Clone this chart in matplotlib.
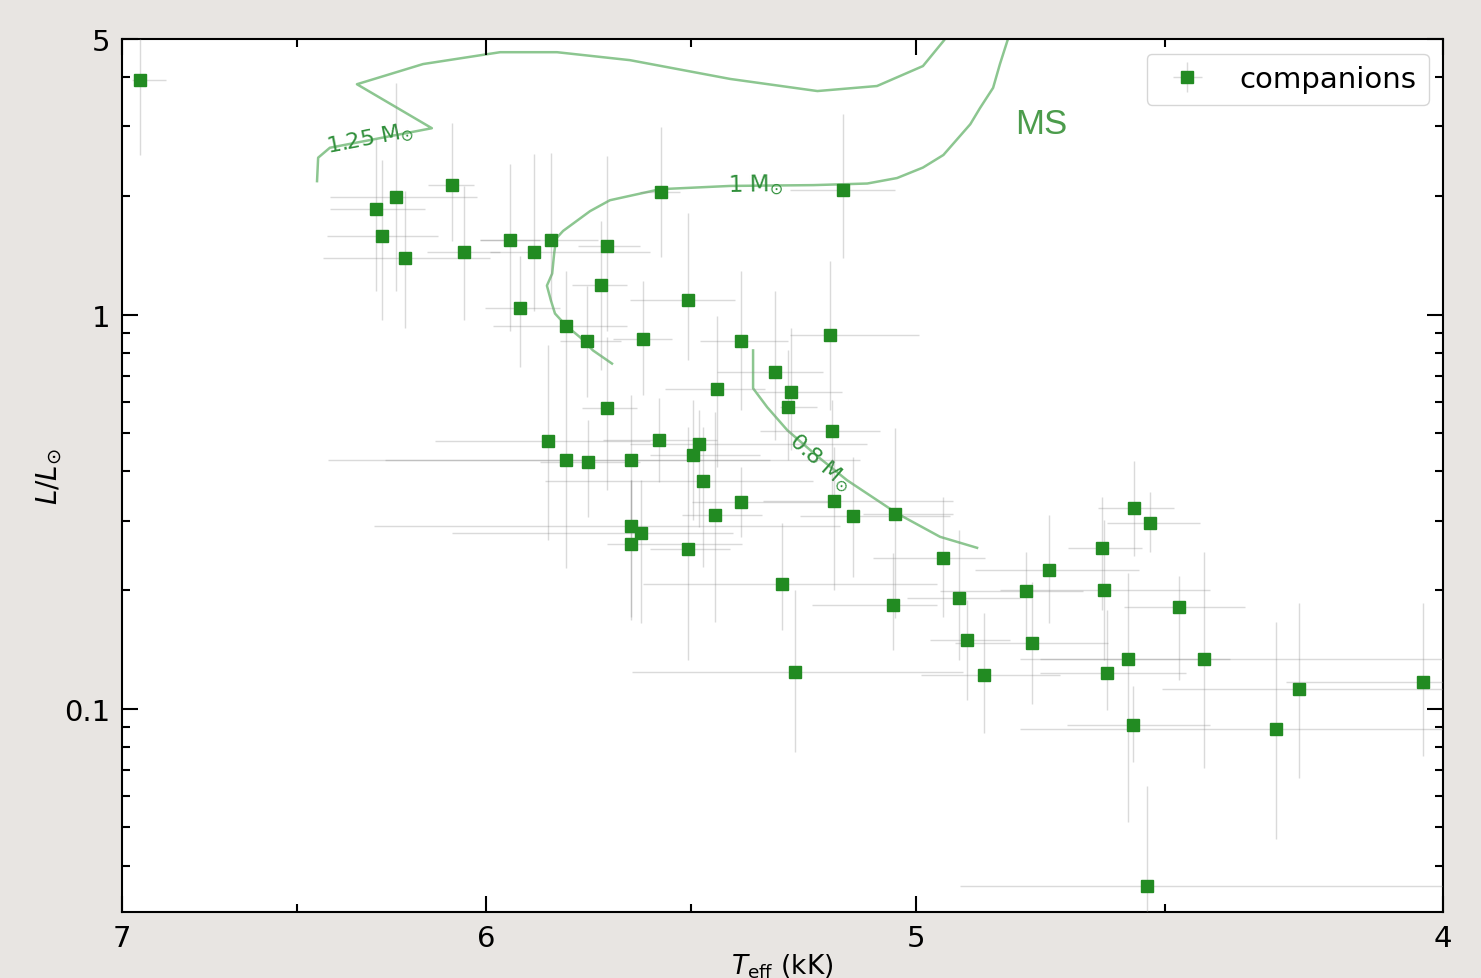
import numpy as np
import matplotlib.pyplot as plt
from matplotlib.ticker import FixedLocator, LogLocator, NullFormatter, FuncFormatter

# companions: Teff (K) with hot/cool bounds, luminosity (Lsun) with bounds
teff_k = [6947, 6286, 6233, 6270, 6209, 6087, 6056, 5939, 5879, 5837,
          5700, 5714, 5914, 5800, 5748, 5614, 5571, 5508, 5385, 5186,
          5157, 5308, 5272, 5279, 5440, 5700, 5844, 5800, 5746, 5642,
          5576, 5482, 5496, 5473, 5181, 5177, 5135, 5045, 5385, 5445,
          5642, 5618, 5642, 5508, 4943, 5293, 5049, 4910, 5264, 4893,
          4858, 4773, 4760, 4726, 4621, 4617, 4559, 4528, 4571, 4612,
          4561, 4473, 4426, 4534, 4293, 4251, 4035]
teff_hot = [6970, 6409, 6409, 6418, 6428, 6149, 6152, 6015, 5990, 6015,
            5771, 5785, 6002, 5982, 5814, 5685, 5620, 5644, 5480, 5274,
            5274, 5440, 5349, 5297, 5562, 5761, 6131, 6262, 5864, 6415,
            5710, 5644, 5597, 5851, 5342, 5335, 5252, 5114, 5499, 5522,
            6292, 6087, 5700, 5597, 5092, 5614, 5226, 5020, 5639, 4971,
            4991, 4950, 4918, 4877, 4689, 4826, 4630, 4612, 4744, 4744,
            4691, 4579, 4785, 4908, 4785, 4505, 4275]
teff_cool = [6871, 6157, 6023, 6123, 5990, 6031, 5964, 5864, 5597, 5722,
             5620, 5651, 5814, 5651, 5666, 5545, 5526, 5399, 5280, 4994,
             5045, 5201, 5160, 5214, 5330, 5628, 5597, 5319, 5620, 5120,
             5440, 5105, 5343, 5223, 5077, 4923, 4929, 4923, 5186, 5337,
             5164, 5404, 5383, 5410, 4857, 4956, 4956, 4785, 4903, 4806,
             4704, 4660, 4610, 4550, 4545, 4415, 4483, 4434, 4378, 4460,
             4415, 4350, 3950, 3950, 3950, 3980, 3950]
lum = [3.94, 1.85, 1.99, 1.58, 1.39, 2.13, 1.44, 1.55, 1.44, 1.55,
       1.49, 1.19, 1.04, 0.938, 0.859, 0.869, 2.05, 1.09, 0.859, 0.885,
       2.07, 0.713, 0.635, 0.582, 0.646, 0.578, 0.477, 0.427, 0.422, 0.427,
       0.480, 0.469, 0.440, 0.378, 0.506, 0.336, 0.308, 0.312, 0.334, 0.310,
       0.291, 0.279, 0.262, 0.254, 0.241, 0.207, 0.183, 0.191, 0.124, 0.149,
       0.122, 0.199, 0.147, 0.225, 0.256, 0.200, 0.323, 0.296, 0.134, 0.123,
       0.0911, 0.181, 0.134, 0.0356, 0.0890, 0.112, 0.117]
lum_hi = [5.10, 2.79, 3.87, 2.47, 2.06, 3.06, 2.12, 2.41, 2.56, 2.57,
          2.53, 1.73, 1.41, 1.29, 1.18, 1.22, 2.99, 1.81, 1.29, 1.37,
          3.23, 1.15, 0.927, 0.811, 0.994, 0.875, 0.835, 0.751, 0.539, 0.624,
          0.613, 0.571, 0.606, 0.518, 0.606, 0.461, 0.435, 0.515, 0.410, 0.565,
          0.380, 0.380, 0.380, 0.518, 0.344, 0.296, 0.248, 0.284, 0.200, 0.189,
          0.175, 0.250, 0.210, 0.310, 0.344, 0.301, 0.424, 0.354, 0.221, 0.178,
          0.114, 0.217, 0.250, 0.0635, 0.166, 0.186, 0.186]
lum_lo = [2.54, 1.15, 1.15, 0.966, 0.922, 1.54, 0.966, 0.911, 1.02, 1.085,
          0.911, 0.722, 0.734, 0.751, 0.617, 0.624, 1.40, 0.765, 0.571, 0.571,
          1.39, 0.480, 0.452, 0.427, 0.410, 0.358, 0.268, 0.228, 0.306, 0.284,
          0.376, 0.289, 0.301, 0.229, 0.344, 0.200, 0.216, 0.170, 0.273, 0.166,
          0.171, 0.165, 0.168, 0.133, 0.171, 0.158, 0.141, 0.133, 0.0778, 0.105,
          0.0870, 0.150, 0.103, 0.165, 0.178, 0.133, 0.244, 0.250, 0.0517, 0.0994,
          0.0734, 0.118, 0.0709, 0.028, 0.0466, 0.0669, 0.0760]

# evolutionary tracks (Teff in kK, L in Lsun)
track_125_teff = [6.445, 6.442, 6.410, 6.139, 6.337, 6.162, 5.964, 5.822,
                  5.645, 5.410, 5.214, 5.084, 4.986, 4.943, 4.919]
track_125_lum = [2.18, 2.50, 2.65, 2.97, 3.84, 4.32, 4.63, 4.63,
                 4.42, 3.96, 3.69, 3.80, 4.27, 4.94, 5.39]
track_100_teff = [5.688, 5.734, 5.765, 5.800, 5.827, 5.837, 5.847, 5.834,
                  5.829, 5.824, 5.807, 5.741, 5.693, 5.573, 5.410, 5.223,
                  5.105, 5.041, 4.986, 4.943, 4.887, 4.867, 4.840, 4.826,
                  4.811, 4.801]
track_100_lum = [0.751, 0.811, 0.875, 0.938, 1.006, 1.085, 1.184, 1.27,
                 1.43, 1.56, 1.63, 1.83, 1.95, 2.08, 2.12, 2.13,
                 2.15, 2.22, 2.36, 2.54, 3.04, 3.34, 3.76, 4.32,
                 4.94, 5.39]
track_080_teff = [5.358, 5.358, 5.326, 5.281, 5.214, 5.149, 5.041, 4.950, 4.873]
track_080_lum = [0.811, 0.650, 0.582, 0.509, 0.437, 0.380, 0.313, 0.273, 0.256]

t = np.array(teff_k) / 1000
t_hot = np.array(teff_hot) / 1000
t_cool = np.array(teff_cool) / 1000
L = np.array(lum)
xerr = [t - t_cool, t_hot - t]
yerr = [L - np.array(lum_lo), np.array(lum_hi) - L]

fig = plt.figure(figsize=(14.81, 9.79), dpi=100, facecolor='#e8e5e2')
ax = fig.add_axes([0.0824, 0.0674, 0.8920, 0.8917])

track_color = '#8cc690'
label_color = '#2f8f3a'
for tt, ll in [(track_125_teff, track_125_lum),
               (track_100_teff, track_100_lum),
               (track_080_teff, track_080_lum)]:
    ax.plot(tt, ll, color=track_color, lw=1.8, zorder=1)

ax.text(6.302, 2.81, r'1.25 M$_{\odot}$', rotation=11, color=label_color,
        fontsize=16, ha='center', va='center', rotation_mode='anchor', zorder=2)
ax.text(5.353, 2.13, r'1 M$_{\odot}$', rotation=1, color=label_color,
        fontsize=16.5, ha='center', va='center', rotation_mode='anchor', zorder=2)
ax.text(5.208, 0.422, r'0.8 M$_{\odot}$', rotation=-41, color=label_color,
        fontsize=16, ha='center', va='center', rotation_mode='anchor', zorder=2)
ax.text(4.743, 3.06, 'MS', fontsize=25, color='#4c9c4c',
        family='Liberation Sans', ha='center', va='center')

ax.errorbar(t, L, xerr=xerr, yerr=yerr, fmt='s', color='#228b22', ms=8.3,
            ecolor=(0.55, 0.55, 0.55, 0.32), elinewidth=1, capsize=0,
            label='companions', zorder=3)

ax.set_xscale('log')
ax.set_yscale('log')
ax.set_xlim(7, 4)
ax.set_ylim(0.0305, 5)

fmt = FuncFormatter(lambda v, p: f'{v:g}')
ax.xaxis.set_major_locator(FixedLocator([4, 5, 6, 7]))
ax.xaxis.set_major_formatter(fmt)
ax.xaxis.set_minor_locator(FixedLocator([4.5, 5.5, 6.5]))
ax.xaxis.set_minor_formatter(NullFormatter())
ax.yaxis.set_major_locator(FixedLocator([0.1, 1, 5]))
ax.yaxis.set_major_formatter(fmt)
ax.yaxis.set_minor_locator(LogLocator(subs=np.arange(2, 10)))
ax.yaxis.set_minor_formatter(NullFormatter())

ax.tick_params(which='both', direction='in', top=True, right=True,
               width=1.5, labelsize=21, pad=8.5)
ax.tick_params(which='major', length=11.5)
ax.tick_params(which='minor', length=6)
for s in ax.spines.values():
    s.set_linewidth(1.5)

ax.set_xlabel(r'$T_{\rm eff}$ (kK)', fontsize=19, labelpad=0)
ax.set_ylabel(r'$L/L_{\odot}$', fontsize=20, labelpad=0)
ax.legend(loc='upper right', fontsize=21)

fig.savefig('out.png', dpi=100, facecolor=fig.get_facecolor())
